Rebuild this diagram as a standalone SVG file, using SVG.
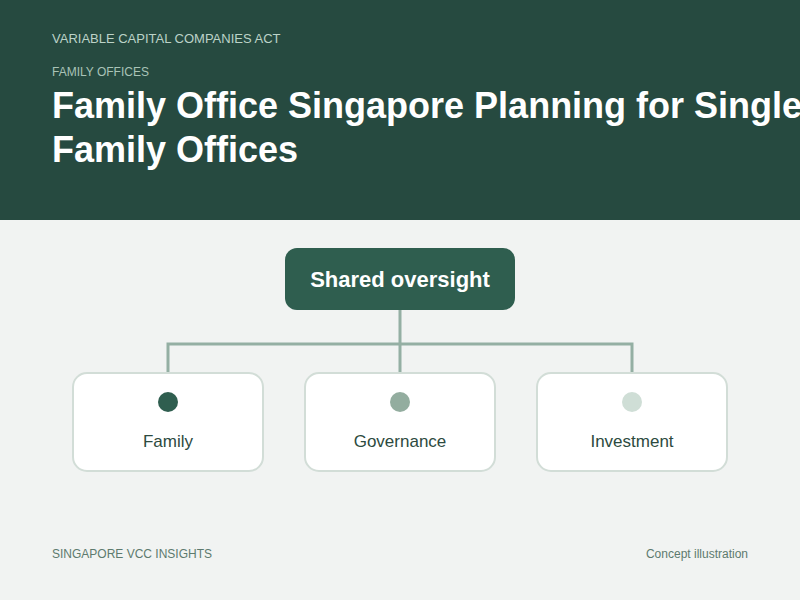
<svg xmlns="http://www.w3.org/2000/svg" width="800" height="600" viewBox="0 0 800 600">
<style>
text{font-family:"Liberation Sans",Arial,sans-serif}
.card{fill:#ffffff;stroke:#d2ddd7;stroke-width:2}
.lbl{font-size:17px;fill:#2d4a40;text-anchor:middle}
.conn{stroke:#94afa3;stroke-width:3;fill:none}
.foot{font-size:12px;fill:#5d7a6e}
</style>
<rect width="800" height="600" fill="#f1f3f2"/>
<rect width="800" height="220" fill="#264a40"/>
<text x="52" y="43" font-size="13" fill="#bcd3c8">VARIABLE CAPITAL COMPANIES ACT</text>
<text x="52" y="76" font-size="12" fill="#a9c3b7">FAMILY OFFICES</text>
<text x="52" y="118" font-size="36" font-weight="bold" fill="#ffffff">Family Office Singapore Planning for Single</text>
<text x="52" y="162" font-size="36" font-weight="bold" fill="#ffffff">Family Offices</text>
<g id="connectors">
<path class="conn" d="M400 310V372M168 372V344H632V372"/>
</g>
<g id="shared-oversight">
<rect x="285" y="248" width="230" height="62" rx="12" fill="#2f5e4f"/>
<text x="400" y="287" font-size="22" font-weight="bold" fill="#ffffff" text-anchor="middle">Shared oversight</text>
</g>
<g id="family">
<rect class="card" x="73" y="373" width="190" height="98" rx="14"/>
<circle cx="168" cy="402" r="10" fill="#2f5e4f"/>
<text class="lbl" x="168" y="447">Family</text>
</g>
<g id="governance">
<rect class="card" x="305" y="373" width="190" height="98" rx="14"/>
<circle cx="400" cy="402" r="10" fill="#93ad9f"/>
<text class="lbl" x="400" y="447">Governance</text>
</g>
<g id="investment">
<rect class="card" x="537" y="373" width="190" height="98" rx="14"/>
<circle cx="632" cy="402" r="10" fill="#cfded6"/>
<text class="lbl" x="632" y="447">Investment</text>
</g>
<text class="foot" x="52" y="558">SINGAPORE VCC INSIGHTS</text>
<text class="foot" x="748" y="558" text-anchor="end">Concept illustration</text>
</svg>
